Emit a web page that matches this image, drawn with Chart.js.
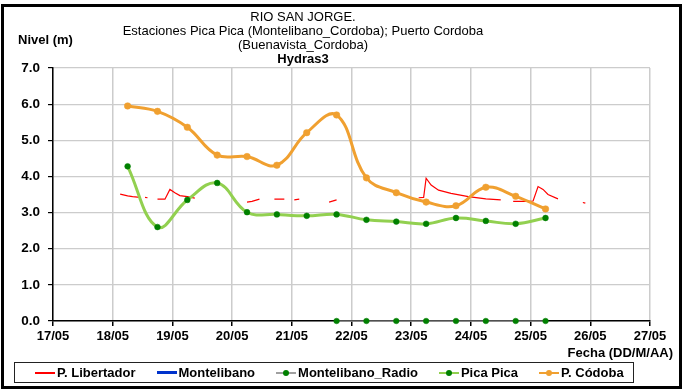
<!DOCTYPE html>
<html lang="es">
<head>
<meta charset="UTF-8">
<title>Rio San Jorge - Niveles</title>
<style>
    body {
        margin: 0;
        width: 690px;
        height: 390px;
        background: #fff;
        font-family: "Liberation Sans", Arial, sans-serif;
        position: relative;
        overflow: hidden;
    }
    #grafico {
        position: absolute;
        left: 0;
        top: 0;
    }
    #marco {
        position: absolute;
        left: 1px;
        top: 4px;
        width: 675px;
        height: 379px;
        border: 3px solid #000;
        pointer-events: none;
    }
    #titulo {
        position: absolute;
        left: 103px;
        top: 10px;
        width: 400px;
        text-align: center;
        font-size: 13px;
        line-height: 14px;
        color: #000;
    }
    #titulo b { display: block; }
    #eje-y {
        position: absolute;
        left: 18px;
        top: 32px;
        font-size: 13px;
        font-weight: bold;
    }
    #eje-x {
        position: absolute;
        right: 17px;
        top: 345px;
        font-size: 13px;
        font-weight: bold;
    }
    #leyenda {
        position: absolute;
        left: 14px;
        top: 362px;
        width: 620px;
        height: 21px;
        border: 1px solid #222;
        box-sizing: border-box;
        display: flex;
        align-items: center;
        font-size: 13px;
        font-weight: bold;
    }
    .item {
        display: flex;
        align-items: center;
        margin-left: 21px;
    }
    .item:first-child { margin-left: 20px; }
    .marca {
        position: relative;
        width: 20px;
        height: 2px;
        margin-right: 2px;
    }
    .marca i {
        position: absolute;
        left: 7px;
        top: -2px;
        width: 6px;
        height: 6px;
        border-radius: 50%;
    }
</style>
</head>
<body>
<canvas id="grafico" width="690" height="390"></canvas>
<div id="titulo">RIO SAN JORGE.<br>Estaciones Pica Pica (Montelibano_Cordoba); Puerto Cordoba<br>(Buenavista_Cordoba)<b>Hydras3</b></div>
<div id="eje-y">Nivel (m)</div>
<div id="eje-x">Fecha (DD/M/AA)</div>
<div id="leyenda"></div>
<div id="marco"></div>
<script src="https://cdn.jsdelivr.net/npm/chart.js"></script>
<script>
    // etiquetas del eje de fechas
    const fechas = ['17/05', '18/05', '19/05', '20/05', '21/05', '22/05', '23/05', '24/05', '25/05', '26/05', '27/05'];

    // lecturas cada 12 horas (Pica Pica y Puerto Cordoba)
    const horas = ['18/05 06:00', '18/05 18:00', '19/05 06:00', '19/05 18:00', '20/05 06:00', '20/05 18:00',
        '21/05 06:00', '21/05 18:00', '22/05 06:00', '22/05 18:00', '23/05 06:00', '23/05 18:00',
        '24/05 06:00', '24/05 18:00', '25/05 06:00'];
    const picaPica = [4.28, 2.60, 3.35, 3.82, 3.01, 2.95, 2.91, 2.95, 2.80, 2.75, 2.69, 2.85, 2.77, 2.69, 2.85];
    const pCordoba = [5.95, 5.80, 5.36, 4.59, 4.55, 4.31, 5.21, 5.70, 3.96, 3.55, 3.29, 3.19, 3.70, 3.45, 3.10];

    // Montelibano_Radio (sin lectura, reporta 0)
    const horasRadio = ['21/05 18:00', '22/05 06:00', '22/05 18:00', '23/05 06:00', '23/05 18:00',
        '24/05 06:00', '24/05 18:00', '25/05 06:00'];
    const montelibanoRadio = [0, 0, 0, 0, 0, 0, 0, 0];

    // Montelibano sin datos en el periodo
    const horasMontelibano = [];
    const montelibano = [];

    // P. Libertador, serie horaria con huecos (null)
    const horasLib = ['18/05 03:00', '18/05 06:00', '18/05 08:00', '18/05 11:00', '18/05 12:00',
        '18/05 13:00', '18/05 14:00', '18/05 15:00',
        '18/05 18:00', '18/05 21:00', '18/05 23:00', '19/05 01:00', '19/05 03:00', '19/05 06:00', '19/05 09:00', '19/05 10:00',
        '20/05 06:00', '20/05 08:00', '20/05 11:00', '20/05 12:00',
        '20/05 17:00', '20/05 21:00', '20/05 22:00',
        '21/05 01:00', '21/05 03:00', '21/05 04:00',
        '21/05 15:00', '21/05 18:00', '21/05 19:00',
        '23/05 03:00', '23/05 05:00', '23/05 06:00', '23/05 08:00', '23/05 11:00', '23/05 16:00', '23/05 23:00',
        '24/05 06:00', '24/05 12:00', '24/05 14:00',
        '24/05 17:00', '24/05 23:00', '25/05 01:00', '25/05 03:00', '25/05 05:00', '25/05 07:00', '25/05 11:00', '25/05 12:00',
        '25/05 21:00', '25/05 22:00'];
    const pLibertador = [3.51, 3.46, 3.44, 3.42, null,
        3.42, 3.41, null,
        3.37, 3.37, 3.64, 3.55, 3.47, 3.44, 3.40, null,
        3.29, 3.31, 3.37, null,
        3.37, 3.37, null,
        3.35, 3.37, null,
        3.29, 3.35, null,
        3.41, 3.42, 3.95, 3.76, 3.62, 3.53, 3.44,
        3.38, 3.35, null,
        3.31, 3.31, 3.32, 3.72, 3.64, 3.50, 3.38, null,
        3.28, 3.26];

    // 'DD/MM HH:mm' -> dias desde el 17/05
    function aDias(s) {
        const [f, h] = s.split(' ');
        const dia = parseInt(f.split('/')[0]);
        const [hh, mm] = h.split(':').map(Number);
        return (dia - 17) + (hh + mm / 60) / 24;
    }

    function puntos(t, v) {
        return t.map((s, i) => ({ x: aDias(s), y: v[i] }));
    }

    const series = [
        { label: 'P. Libertador', data: puntos(horasLib, pLibertador), borderColor: '#ff0000', borderWidth: 1.2,
          pointRadius: 0, tension: 0, spanGaps: false, order: 5, marca: null },
        { label: 'Montelibano', data: puntos(horasMontelibano, montelibano), borderColor: '#0033cc', borderWidth: 3,
          pointRadius: 0, order: 4, marca: null },
        { label: 'Montelibano_Radio', data: puntos(horasRadio, montelibanoRadio), borderColor: '#a0a0a0', borderWidth: 1,
          pointRadius: 2.8, pointBorderWidth: 0.5, pointBackgroundColor: '#008000', pointBorderColor: '#008000', order: 3, marca: '#008000' },
        { label: 'Pica Pica', data: puntos(horas, picaPica), borderColor: '#92d050', borderWidth: 3, tension: 0.4,
          pointRadius: 2.9, pointBorderWidth: 0.5, pointBackgroundColor: '#008000', pointBorderColor: '#008000', order: 2, marca: '#008000' },
        { label: 'P. Códoba', data: puntos(horas, pCordoba), borderColor: '#f0a030', borderWidth: 3, tension: 0.4,
          pointRadius: 3.3, pointBorderWidth: 0.5, pointBackgroundColor: '#f0a030', pointBorderColor: '#f0a030', order: 1, marca: '#f0a030' }
    ];

    Chart.defaults.font.family = '"Liberation Sans", Arial, sans-serif';
    Chart.defaults.color = '#000';

    const fuenteEje = { size: 13, weight: 'bold' };

    new Chart(document.getElementById('grafico'), {
        type: 'line',
        data: { datasets: series },
        options: {
            responsive: false,
            animation: false,
            clip: false,
            layout: { padding: { left: 0, top: 68, right: 40, bottom: 43 } },
            plugins: {
                legend: { display: false },
                tooltip: { enabled: false }
            },
            scales: {
                x: {
                    type: 'linear',
                    min: 0,
                    max: 10,
                    ticks: {
                        stepSize: 1,
                        autoSkip: false,
                        maxRotation: 0,
                        padding: 3,
                        font: fuenteEje,
                        callback: v => fechas[v]
                    },
                    grid: { color: '#cccccc', lineWidth: 1.5, tickColor: '#000', tickLength: 5 },
                    border: { color: '#000', width: 1.5 },
                    afterFit: s => { s.height = 26; }
                },
                y: {
                    min: 0,
                    max: 7,
                    ticks: {
                        stepSize: 0.5,
                        padding: 8,
                        font: { size: 13.5, weight: 'bold' },
                        callback: v => Number.isInteger(v) ? v.toFixed(1) : ''
                    },
                    grid: {
                        color: '#cccccc',
                        lineWidth: 1.2,
                        tickLength: 5,
                        tickColor: c => Number.isInteger(c.tick.value) ? '#000' : 'rgba(0,0,0,0)'
                    },
                    border: { color: '#000', width: 1.5 },
                    afterFit: s => { s.width = 53; }
                }
            }
        }
    });

    // leyenda
    const leyenda = document.getElementById('leyenda');
    series.forEach(s => {
        const item = document.createElement('div');
        item.className = 'item';
        const marca = document.createElement('span');
        marca.className = 'marca';
        marca.style.background = s.borderColor;
        if (s.label === 'Montelibano') marca.style.height = '3px';
        if (s.marca) {
            const punto = document.createElement('i');
            punto.style.background = s.marca;
            marca.appendChild(punto);
        }
        item.appendChild(marca);
        item.appendChild(document.createTextNode(s.label));
        leyenda.appendChild(item);
    });
</script>
</body>
</html>
